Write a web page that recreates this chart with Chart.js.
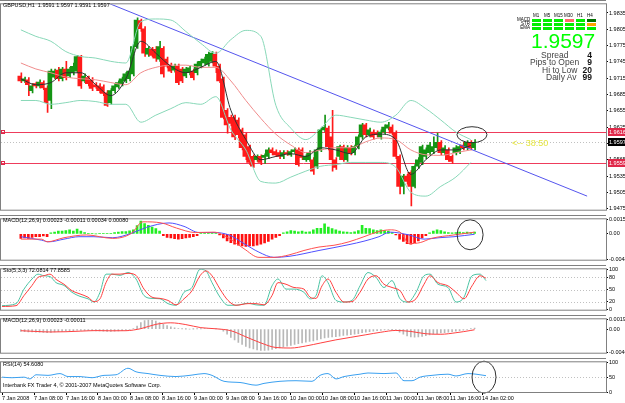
<!DOCTYPE html>
<html>
<head>
  <title>GBPUSD,H1</title>
  <meta charset="utf-8">
  <script src="https://cdn.jsdelivr.net/npm/chart.js"></script>
  <style>
    body { margin: 0; width: 625px; height: 403px; overflow: hidden; position: relative; background: #fff;
           font-family: "Liberation Sans", Arial, sans-serif; }
    canvas { position: absolute; left: 0; }
    .t { position: absolute; white-space: nowrap; font-size: 5.5px; line-height: 6px; color: #000; }
    .cell { position: absolute; width: 9px; height: 3px; background: #00ee00; }
    .info { position: absolute; white-space: nowrap; font-size: 8.5px; line-height: 8px; color: #444; }
    .num { position: absolute; white-space: nowrap; font-size: 8.5px; line-height: 8px; color: #111; font-weight: bold; text-align: right; width: 20px; }
  </style>
</head>
<body>

<canvas id="mainChart" style="top:0px" width="625" height="214"></canvas>
<canvas id="macdChart" style="top:215px" width="625" height="49"></canvas>
<canvas id="stoChart" style="top:265px" width="625" height="49"></canvas>
<canvas id="macd2Chart" style="top:315px" width="625" height="42"></canvas>
<canvas id="rsiChart" style="top:358px" width="625" height="45"></canvas>

<div class="t" style="left:3px;top:2px">GBPUSD,H1&nbsp; 1.9591 1.9597 1.9591 1.9597</div>
<div class="t" style="left:3px;top:217px">MACD(12,26,9) 0.00023 -0.00011 0.00034 0.00080</div>
<div class="t" style="left:3px;top:267px">Sto(5,3,3) 72.0814 77.8585</div>
<div class="t" style="left:3px;top:317px">MACD(12,26,9) 0.00023 -0.00011</div>
<div class="t" style="left:3px;top:361px">RSI(14) 54.6080</div>
<div class="t" style="left:3px;top:382px">Interbank FX Trader 4, © 2001-2007 MetaQuotes Software Corp.</div>

<!-- info panel -->
<div class="t" style="left:533px;top:13px;font-size:4.5px">M1</div>
<div class="t" style="left:544px;top:13px;font-size:4.5px">M5</div>
<div class="t" style="left:554px;top:13px;font-size:4.5px">M15</div>
<div class="t" style="left:564px;top:13px;font-size:4.5px">M30</div>
<div class="t" style="left:577px;top:13px;font-size:4.5px">H1</div>
<div class="t" style="left:587px;top:13px;font-size:4.5px">H4</div>
<div class="t" style="left:517px;top:18px;font-size:4.5px;line-height:4px;text-align:right;width:13px">MACD<br>STR<br>EMA</div>
<div class="cell" style="left:532px;top:19px"></div><div class="cell" style="left:543px;top:19px"></div>
<div class="cell" style="left:554px;top:19px"></div><div class="cell" style="left:565px;top:19px;background:#ff6a6a"></div>
<div class="cell" style="left:576px;top:19px"></div><div class="cell" style="left:587px;top:19px;background:#007000"></div>
<div class="cell" style="left:532px;top:23px"></div><div class="cell" style="left:543px;top:23px"></div>
<div class="cell" style="left:554px;top:23px"></div><div class="cell" style="left:565px;top:23px"></div>
<div class="cell" style="left:576px;top:23px"></div><div class="cell" style="left:587px;top:23px;background:#ffa500"></div>
<div class="cell" style="left:532px;top:27px"></div><div class="cell" style="left:543px;top:27px"></div>
<div class="cell" style="left:554px;top:27px"></div><div class="cell" style="left:565px;top:27px"></div>
<div class="cell" style="left:576px;top:27px"></div><div class="cell" style="left:587px;top:27px"></div>
<div class="t" style="left:531px;top:30px;font-size:21px;line-height:21px;color:#00ff00">1.9597</div>
<div class="info" style="left:541px;top:51px">Spread</div>
<div class="info" style="left:530px;top:58px">Pips to Open</div>
<div class="info" style="left:542px;top:66px">Hi to Low</div>
<div class="info" style="left:546px;top:73px">Daily Av</div>
<div class="num" style="left:572px;top:51px">4</div>
<div class="num" style="left:572px;top:58px">9</div>
<div class="num" style="left:572px;top:66px">20</div>
<div class="num" style="left:572px;top:73px">99</div>
<div class="t" style="left:512px;top:139px;font-size:9px;line-height:9px;color:#e6e640">&lt;-- 38:50</div>

<script>
// ---------- data ----------
const xLabels = ['7 Jan 2008', '7 Jan 08:00', '7 Jan 16:00', '8 Jan 00:00', '8 Jan 08:00', '8 Jan 16:00',
  '9 Jan 00:00', '9 Jan 08:00', '9 Jan 16:00', '10 Jan 00:00', '10 Jan 08:00', '10 Jan 16:00',
  '11 Jan 00:00', '11 Jan 08:00', '11 Jan 16:00', '14 Jan 02:00'];
const xLabelBars = [0, 8, 16, 24, 32, 40, 48, 56, 64, 72, 80, 88, 96, 104, 112, 120];

const priceTicks = [1.9835, 1.9805, 1.9775, 1.9745, 1.9715, 1.9685, 1.9655, 1.9625, 1.9595, 1.9565, 1.9535, 1.9505, 1.9475];

// open, high, low, close  (H1 bars)
const ohlc = [
  [1.9719,1.9725,1.9707,1.9710],[1.9710,1.9717,1.9707,1.9714],[1.9712,1.9716,1.9683,1.9703],[1.9692,1.9705,1.9688,1.9701],
  [1.9705,1.9708,1.9697,1.9701],[1.9701,1.9712,1.9697,1.9708],[1.9707,1.9710,1.9694,1.9697],[1.9697,1.9701,1.9652,1.9670],
  [1.9674,1.9732,1.9659,1.9728],[1.9717,1.9732,1.9714,1.9728],[1.9730,1.9735,1.9710,1.9714],[1.9714,1.9735,1.9710,1.9732],
  [1.9732,1.9746,1.9712,1.9716],[1.9719,1.9735,1.9716,1.9732],[1.9725,1.9743,1.9721,1.9737],[1.9728,1.9757,1.9725,1.9755],
  [1.9755,1.9757,1.9696,1.9701],[1.9710,1.9723,1.9707,1.9719],[1.9716,1.9719,1.9701,1.9705],[1.9712,1.9716,1.9692,1.9696],
  [1.9703,1.9707,1.9696,1.9699],[1.9701,1.9705,1.9688,1.9692],[1.9699,1.9703,1.9683,1.9687],[1.9688,1.9692,1.9663,1.9665],
  [1.9670,1.9696,1.9667,1.9692],[1.9692,1.9705,1.9688,1.9701],[1.9699,1.9710,1.9696,1.9707],[1.9705,1.9717,1.9701,1.9714],
  [1.9710,1.9726,1.9707,1.9723],[1.9714,1.9732,1.9710,1.9728],[1.9723,1.9777,1.9719,1.9773],[1.9773,1.9826,1.9770,1.9822],
  [1.9821,1.9824,1.9801,1.9806],[1.9806,1.9810,1.9755,1.9761],[1.9759,1.9773,1.9755,1.9770],[1.9768,1.9772,1.9754,1.9757],
  [1.9768,1.9773,1.9746,1.9752],[1.9750,1.9783,1.9746,1.9773],[1.9770,1.9773,1.9717,1.9723],[1.9750,1.9754,1.9734,1.9737],
  [1.9739,1.9743,1.9725,1.9728],[1.9730,1.9741,1.9726,1.9737],[1.9737,1.9741,1.9703,1.9707],[1.9732,1.9735,1.9707,1.9710],
  [1.9719,1.9735,1.9716,1.9732],[1.9725,1.9737,1.9721,1.9734],[1.9728,1.9732,1.9712,1.9716],[1.9725,1.9745,1.9721,1.9741],
  [1.9737,1.9750,1.9734,1.9746],[1.9743,1.9754,1.9739,1.9750],[1.9741,1.9763,1.9737,1.9759],[1.9746,1.9764,1.9743,1.9761],
  [1.9759,1.9763,1.9725,1.9737],[1.9737,1.9741,1.9707,1.9710],[1.9714,1.9717,1.9640,1.9643],[1.9656,1.9659,1.9614,1.9629],
  [1.9643,1.9647,1.9627,1.9632],[1.9643,1.9647,1.9602,1.9607],[1.9638,1.9642,1.9605,1.9611],[1.9620,1.9623,1.9583,1.9587],
  [1.9611,1.9614,1.9565,1.9571],[1.9589,1.9592,1.9556,1.9560],[1.9571,1.9574,1.9551,1.9553],[1.9565,1.9574,1.9562,1.9571],
  [1.9571,1.9574,1.9556,1.9560],[1.9569,1.9576,1.9558,1.9573],[1.9571,1.9587,1.9567,1.9583],[1.9583,1.9587,1.9574,1.9578],
  [1.9580,1.9583,1.9571,1.9574],[1.9578,1.9582,1.9567,1.9571],[1.9571,1.9582,1.9567,1.9578],[1.9578,1.9582,1.9573,1.9576],
  [1.9574,1.9583,1.9571,1.9580],[1.9580,1.9587,1.9576,1.9583],[1.9583,1.9587,1.9553,1.9556],[1.9583,1.9587,1.9565,1.9569],
  [1.9565,1.9574,1.9562,1.9571],[1.9565,1.9582,1.9562,1.9578],[1.9565,1.9569,1.9538,1.9544],[1.9553,1.9587,1.9549,1.9583],
  [1.9583,1.9623,1.9580,1.9620],[1.9620,1.9647,1.9616,1.9625],[1.9623,1.9627,1.9583,1.9589],[1.9607,1.9656,1.9544,1.9565],
  [1.9565,1.9569,1.9547,1.9551],[1.9571,1.9592,1.9565,1.9589],[1.9589,1.9592,1.9562,1.9565],[1.9565,1.9591,1.9562,1.9587],
  [1.9587,1.9591,1.9574,1.9578],[1.9578,1.9592,1.9574,1.9589],[1.9589,1.9611,1.9585,1.9607],[1.9607,1.9632,1.9603,1.9629],
  [1.9629,1.9632,1.9607,1.9611],[1.9611,1.9623,1.9607,1.9620],[1.9616,1.9620,1.9603,1.9607],[1.9614,1.9618,1.9607,1.9611],
  [1.9607,1.9620,1.9603,1.9616],[1.9616,1.9629,1.9612,1.9625],[1.9623,1.9634,1.9620,1.9629],[1.9625,1.9629,1.9611,1.9614],
  [1.9614,1.9618,1.9567,1.9571],[1.9571,1.9574,1.9502,1.9516],[1.9516,1.9538,1.9502,1.9535],[1.9535,1.9538,1.9520,1.9525],
  [1.9542,1.9545,1.9480,1.9516],[1.9516,1.9556,1.9513,1.9553],[1.9553,1.9569,1.9549,1.9565],[1.9560,1.9592,1.9556,1.9589],
  [1.9571,1.9587,1.9567,1.9583],[1.9578,1.9597,1.9574,1.9592],[1.9580,1.9607,1.9576,1.9589],[1.9587,1.9614,1.9583,1.9597],
  [1.9597,1.9600,1.9574,1.9578],[1.9578,1.9591,1.9574,1.9587],[1.9583,1.9587,1.9562,1.9565],[1.9571,1.9574,1.9558,1.9562],
  [1.9578,1.9591,1.9574,1.9587],[1.9580,1.9592,1.9576,1.9589],[1.9592,1.9597,1.9583,1.9587],[1.9587,1.9600,1.9583,1.9597],
  [1.9597,1.9600,1.9583,1.9587],[1.9587,1.9602,1.9583,1.9597]
];

// moving averages / bands, read every 4 bars
const maBars = [0, 4, 8, 12, 16, 20, 24, 28, 32, 36, 40, 44, 48, 52, 56, 60, 64, 68, 72, 76, 80, 84, 88, 92, 96, 100, 104, 108, 112, 116, 120];
const bbUpper = [1.9804, 1.9792, 1.9783, 1.9764, 1.9755, 1.9752, 1.9746, 1.9743, 1.9819, 1.9824, 1.9822, 1.9801, 1.9779, 1.9761, 1.9786, 1.9803,
  1.9792, 1.9665, 1.9623, 1.9602, 1.9623, 1.9647, 1.9643, 1.9638, 1.9634, 1.9647, 1.9674, 1.9659, 1.9638, 1.9616, 1.9602];
const bbLower = [1.9674, 1.9674, 1.9667, 1.9670, 1.9674, 1.9672, 1.9667, 1.9667, 1.9634, 1.9647, 1.9659, 1.9670, 1.9667, 1.9681, 1.9620, 1.9583,
  1.9525, 1.9522, 1.9533, 1.9544, 1.9553, 1.9556, 1.9560, 1.9560, 1.9560, 1.9551, 1.9505, 1.9498, 1.9516, 1.9533, 1.9560];
const maSlow = [1.9743, 1.9732, 1.9725, 1.9717, 1.9714, 1.9712, 1.9707, 1.9703, 1.9725, 1.9735, 1.9739, 1.9739, 1.9735, 1.9735, 1.9710, 1.9674,
  1.9641, 1.9612, 1.9592, 1.9578, 1.9583, 1.9587, 1.9587, 1.9598, 1.9605, 1.9602, 1.9583, 1.9574, 1.9573, 1.9578, 1.9583];
const maFast = [1.9714, 1.9703, 1.9707, 1.9725, 1.9725, 1.9703, 1.9683, 1.9714, 1.9783, 1.9761, 1.9737, 1.9725, 1.9735, 1.9746, 1.9656, 1.9602,
  1.9565, 1.9571, 1.9576, 1.9571, 1.9587, 1.9583, 1.9576, 1.9607, 1.9612, 1.9602, 1.9538, 1.9565, 1.9583, 1.9583, 1.9591];

const trendBars = [23, 151];
const trendPrices = [1.9854, 1.9498];
const levelPrices = [1.9616, 1.9559];
const bidPrice = 1.9597;

// MACD pane with coloured histogram
const macdTicks = [0.00157, 0, -0.00277];
const macdTickLabels = ['0.00157', '0.00', '-0.00483'];
const macdHist = [
  -0.00048, -0.00044, -0.00048, -0.00037, -0.00030, -0.00030, -0.00022, -0.00030,
  0.00011, 0.00019, 0.00030, 0.00030, 0.00037, 0.00044, 0.00030, 0.00052,
  0.00030, 0.00015, 0.00007, 0.00004, 0.00000, 0.00004, 0.00007, 0.00004,
  0.00007, 0.00015, 0.00019, 0.00026, 0.00026, 0.00033,
  0.00044, 0.00089, 0.00137, 0.00111, 0.00093, 0.00074, 0.00056, 0.00030,
  -0.00019, -0.00037, -0.00044, -0.00052, -0.00056, -0.00052, -0.00044, -0.00037, -0.00030, -0.00019,
  0.00007, 0.00015, 0.00015, 0.00011, 0.00007, -0.00011,
  -0.00044, -0.00074, -0.00093, -0.00111, -0.00122, -0.00130, -0.00133, -0.00130, -0.00130,
  -0.00122, -0.00111, -0.00096, -0.00081, -0.00056, -0.00037, -0.00019,
  0.00011, 0.00022, 0.00037, 0.00030, 0.00022, 0.00030, 0.00019, 0.00022, 0.00044, 0.00059,
  0.00059, 0.00107, 0.00074, 0.00056, 0.00044, 0.00030, 0.00022, 0.00019, 0.00015, 0.00022,
  0.00037, 0.00093, 0.00059, 0.00056, 0.00044, 0.00037, 0.00044, 0.00037, 0.00030, 0.00015,
  -0.00011, -0.00056, -0.00081, -0.00104, -0.00111, -0.00093, -0.00074, -0.00044, -0.00019,
  0.00011, 0.00030, 0.00044, 0.00037, 0.00022, 0.00015, 0.00011, 0.00015, 0.00019, 0.00015, 0.00019, 0.00015, 0.00019
];
const macdBlueBars = [0, 5.5, 7.5, 11.5, 15.5, 19.5, 24.5, 29.5, 33.5, 39.5, 43.5, 47.5, 51.5, 55.5, 59.5, 63.5, 67.5, 71.5,
  79.5, 87.5, 91.5, 95.5, 98.5, 103.5, 107.5, 111.5, 115.5, 121];
const macdBlue = [-0.00030, -0.00067, -0.00085, -0.00056, -0.00030, -0.00030, -0.00041, 0.00007, 0.00070, 0.00118, 0.00081, 0.00015,
  0.00015, -0.00011, -0.00104, -0.00196, -0.00252, -0.00241, -0.00178, -0.00115, -0.00078, -0.00030, 0.00019, -0.00011, -0.00056,
  -0.00041, -0.00030, -0.00004];
const macdRedBars = [0, 5.5, 7, 11.5, 17.5, 24.5, 29.5, 32.5, 37.5, 41.5, 46.5, 51.5, 55.5, 59.5, 63.5, 67.5, 71.5, 75.5, 79.5,
  83.5, 87.5, 91.5, 95.5, 98.5, 101.5, 103.5, 106.5, 109.5, 115.5, 121];
const macdRed = [-0.00056, -0.00056, -0.00085, -0.00041, -0.00011, -0.00048, 0.00007, 0.00130, 0.00118, 0.00063, 0.00015, 0.00019,
  -0.00048, -0.00159, -0.00252, -0.00252, -0.00226, -0.00178, -0.00141, -0.00122, -0.00085, -0.00030, 0.00026, 0.00044, 0.00007,
  -0.00104, -0.00093, -0.00048, -0.00011, 0.00019];

// Stochastic
const stoTicks = [100, 80, 50, 20, 0];
const stoLevels = [80, 50, 20];
const stochBars = [0, 3.5, 5.5, 7.5, 9, 10.5, 12, 13.5, 15.5, 17.5, 19.5, 21.5, 23, 24.5, 26, 27.5, 29.5, 31.5, 33.5, 35.5,
  37.5, 39.5, 41.5, 43.5, 45.5, 47.5, 49.5, 51, 52.5, 54.5, 56.5, 58.5, 61.5, 63.5, 65.5, 67.5, 69, 71, 73, 75.5,
  77, 78.5, 80, 81.5, 83.5, 85.5, 87.5, 89.5, 91.5, 93.5, 95.5, 97.5, 99.5, 101.5, 103.5, 105.5, 107, 109, 111.5, 113.5,
  115.5, 117.5, 119.5, 121];
const stochMain = [10, 15, 51, 76, 88, 84, 82, 67, 60, 43, 33, 27, 19, 43, 88, 88, 85, 92, 76, 35,
  28, 27, 15, 11, 43, 55, 100, 96, 67, 31, 11, 11, 16, 12, 11, 59, 76, 51, 51, 43,
  27, 35, 84, 67, 23, 19, 23, 59, 92, 80, 55, 72, 27, 19, 43, 84, 88, 63, 55, 19,
  31, 84, 88, 72];
const stochSignal = [8, 10, 35, 60, 80, 84, 88, 75, 63, 47, 39, 31, 20, 27, 67, 88, 88, 90, 85, 51,
  31, 28, 23, 12, 27, 47, 84, 96, 84, 51, 23, 11, 15, 15, 12, 35, 67, 63, 55, 51,
  31, 28, 59, 76, 43, 19, 20, 43, 76, 84, 63, 55, 47, 19, 27, 63, 84, 67, 59, 43,
  27, 59, 84, 78];

// plain MACD
const macd2Ticks = [0.00194, 0, -0.00462];
const macd2TickLabels = ['0.00194', '0.00', '-0.00462'];
const macd2Main = [
  -0.00045, -0.00048, -0.00052, -0.00055, -0.00058, -0.00060, -0.00065, -0.00070,
  -0.00062, -0.00055, -0.00048, -0.00042, -0.00038, -0.00032, -0.00028, -0.00020,
  -0.00022, -0.00025, -0.00028, -0.00030, -0.00033, -0.00036, -0.00040, -0.00045,
  -0.00042, -0.00038, -0.00033, -0.00028, -0.00022, -0.00015,
  0.00010, 0.00060, 0.00130, 0.00170, 0.00180, 0.00175, 0.00160, 0.00130,
  0.00100, 0.00070, 0.00045, 0.00025, 0.00010, 0.00005, 0.00002, 0.00000, 0.00002, 0.00003,
  0.00005, 0.00008, 0.00010, 0.00008, 0.00005, 0.00000,
  -0.00040, -0.00100, -0.00160, -0.00210, -0.00260, -0.00300, -0.00340, -0.00370, -0.00390,
  -0.00405, -0.00415, -0.00418, -0.00412, -0.00400, -0.00385, -0.00370, -0.00352,
  -0.00335, -0.00318, -0.00300, -0.00285, -0.00270, -0.00255, -0.00242, -0.00230, -0.00212, -0.00192,
  -0.00170, -0.00160, -0.00150, -0.00145, -0.00135, -0.00125, -0.00118, -0.00110, -0.00100, -0.00088,
  -0.00070, -0.00060, -0.00050, -0.00040, -0.00030, -0.00022, -0.00015, -0.00008, -0.00005,
  -0.00020, -0.00060, -0.00100, -0.00130, -0.00150, -0.00155, -0.00150, -0.00140, -0.00128,
  -0.00115, -0.00100, -0.00088, -0.00075, -0.00068, -0.00060, -0.00050, -0.00040, -0.00030, -0.00020, -0.00010, 0.00005, 0.00023
];
const macd2SignalBars = [0, 4, 8, 12, 16, 20, 24, 28, 32, 36, 40, 44, 48, 52, 56, 60, 64, 68, 72, 76, 80, 84, 88, 92, 96, 100,
  104, 108, 112, 116, 120, 121];
const macd2Signal = [-0.00030, -0.00045, -0.00055, -0.00050, -0.00038, -0.00028, -0.00032, -0.00030, 0.00010, 0.00095, 0.00125,
  0.00090, 0.00030, 0.00008, -0.00030, -0.00150, -0.00270, -0.00360, -0.00370, -0.00330, -0.00270, -0.00210, -0.00160,
  -0.00110, -0.00060, -0.00025, -0.00045, -0.00090, -0.00100, -0.00070, -0.00025, -0.00011];

// RSI
const rsiTicks = [100, 50, 0];
const rsiBars = [0, 2.5, 5.5, 7, 8.5, 11.5, 14.5, 16.5, 19.5, 22.5, 25.5, 28.5, 31.5, 33.5, 36.5, 39.5, 43.5, 47.5, 50.5, 52.5,
  55.5, 59.5, 63.5, 65.5, 69.5, 73.5, 77.5, 79.5, 81.5, 83.5, 85.5, 89.5, 91.5, 95.5, 98.5, 100.5, 102.5, 104.5, 107.5, 111.5,
  113.5, 116.5, 118.5, 121];
const rsiValues = [50, 48, 50, 44, 58, 56, 62, 52, 52, 48, 56, 58, 80, 68, 62, 56, 52, 57, 62, 56,
  36, 32, 23, 29, 36, 38, 36, 56, 62, 44, 52, 60, 64, 62, 64, 38, 38, 50, 56, 60,
  54, 62, 60, 55];

// ---------- helpers ----------
const BULL = '#149414', BEAR = '#ff1a1a';
const FONT = '"Liberation Sans", Arial';
const pts = (bars, vals) => bars.map((b, i) => ({ x: b, y: vals[i] }));
const candleColors = ohlc.map(c => c[3] >= c[0] ? BULL : BEAR);
const X_MIN = -0.25, X_MAX = 151;

// extra drawing per pane (levels, axis tags, ellipses), kept out of Chart.js option resolving
const paneExtras = {
  mainChart: {
    levels: [
      { value: levelPrices[0], stroke: '#ee3c5c' },
      { value: levelPrices[1], stroke: '#ee3c5c' },
      { value: bidPrice, stroke: '#c0c0c0', dash: [1, 2] }
    ],
    tags: [
      { value: levelPrices[0], fill: '#e0284a', marker: true },
      { value: levelPrices[1], fill: '#e0284a', marker: true },
      { value: bidPrice, fill: '#000000' }
    ],
    ellipses: [{ bar: 120.3, value: 1.9611, rx: 15, ry: 8 }]
  },
  macdChart: { ellipses: [{ bar: 119.8, value: -0.00009, rx: 13, ry: 15 }] },
  stoChart: { levels: stoLevels.map(v => ({ value: v, stroke: '#c0c0c0', dash: [1, 2] })) },
  macd2Chart: {},
  rsiChart: {
    levels: [{ value: 50, stroke: '#c0c0c0', dash: [1, 2] }],
    ellipses: [{ bar: 120.5, value: 50, rx: 12, ry: 16 }]
  }
};

const framePlugin = {
  id: 'frame',
  beforeDatasetsDraw(chart) {
    const ex = paneExtras[chart.canvas.id] || {};
    const a = chart.chartArea, ctx = chart.ctx;
    (ex.levels || []).forEach(l => {
      const y = Math.round(chart.scales.y.getPixelForValue(l.value)) + 0.5;
      ctx.save();
      ctx.strokeStyle = l.stroke; ctx.lineWidth = 1;
      ctx.setLineDash(l.dash || []);
      ctx.beginPath(); ctx.moveTo(a.left, y); ctx.lineTo(a.right, y); ctx.stroke();
      ctx.restore();
    });
  },
  afterDraw(chart) {
    const ex = paneExtras[chart.canvas.id] || {};
    const a = chart.chartArea, ctx = chart.ctx;
    ctx.save();
    (ex.ellipses || []).forEach(e => {
      const cx = chart.scales.x.getPixelForValue(e.bar), cy = chart.scales.y.getPixelForValue(e.value);
      ctx.strokeStyle = '#303030'; ctx.lineWidth = 1;
      ctx.beginPath(); ctx.ellipse(cx, cy, e.rx, e.ry, 0, 0, Math.PI * 2); ctx.stroke();
    });
    // pane frame and separator
    ctx.strokeStyle = '#808080'; ctx.lineWidth = 1;
    ctx.strokeRect(a.left - 0.5, a.top - 0.5, a.right - a.left + 1, a.bottom - a.top + 1);
    ctx.beginPath(); ctx.moveTo(0, 0.5); ctx.lineTo(a.right, 0.5); ctx.stroke();
    // price tags on the axis
    (ex.tags || []).forEach(t => {
      const y = Math.round(chart.scales.y.getPixelForValue(t.value));
      ctx.fillStyle = t.fill;
      ctx.fillRect(a.right + 2, y - 4, chart.width - a.right - 2, 8);
      ctx.fillStyle = '#ffffff';
      ctx.font = '5.5px ' + FONT;
      ctx.textBaseline = 'middle';
      ctx.fillText(t.value.toFixed(4), a.right + 3, y);
      if (t.marker) {
        ctx.strokeStyle = t.fill;
        ctx.strokeRect(a.left + 0.5, y - 1.5, 3, 3);
      }
    });
    ctx.restore();
  }
};
Chart.register(framePlugin);

function yAxis(min, max, ticks, labels) {
  return {
    position: 'right', min: min, max: max,
    afterFit: s => { s.width = 19; },
    afterBuildTicks: s => { s.ticks = ticks.map(v => ({ value: v })); },
    grid: { drawOnChartArea: false, tickLength: 2, color: '#000' },
    border: { display: true, color: '#808080' },
    ticks: {
      padding: 1, color: '#000', font: { size: 5.5, family: FONT },
      callback: (v, i) => labels ? labels[i] : String(v)
    }
  };
}

function xAxis(show) {
  return {
    type: 'linear', min: X_MIN, max: X_MAX, display: show,
    afterFit: s => { s.height = show ? 11 : 0; },
    afterBuildTicks: s => { s.ticks = xLabelBars.map(v => ({ value: v })); },
    grid: { drawOnChartArea: false, tickLength: 3, color: '#000' },
    border: { display: true, color: '#808080' },
    ticks: {
      align: 'start', padding: 0, maxRotation: 0, autoSkip: false, color: '#000',
      font: { size: 5.5, family: FONT },
      callback: (v, i) => xLabels[i]
    }
  };
}

function baseOptions(scales, padBottom) {
  return {
    responsive: false, animation: false, events: [],
    layout: { padding: { left: 1, top: 1, right: 0, bottom: padBottom } },
    plugins: { legend: { display: false }, tooltip: { enabled: false } },
    scales: scales
  };
}

function line(data, color, order, width) {
  return { type: 'line', data: data, borderColor: color, borderWidth: width || 1, pointRadius: 0,
           cubicInterpolationMode: 'monotone', order: order, fill: false };
}

// ---------- main price pane ----------
new Chart(document.getElementById('mainChart'), {
  type: 'bar',
  data: {
    datasets: [
      line(pts(maBars, maFast), '#303030', 1),
      line(pts(maBars, maSlow), '#f08c8c', 2),
      line(pts(maBars, bbUpper), '#88d8b8', 3),
      line(pts(maBars, bbLower), '#88d8b8', 3),
      line(pts(trendBars, trendPrices), '#5555ee', 4),
      { type: 'bar', order: 5, data: ohlc.map((c, i) => ({ x: i, y: [c[0], c[3]] })),
        backgroundColor: candleColors, barThickness: 3, minBarLength: 1 },
      { type: 'bar', order: 6, data: ohlc.map((c, i) => ({ x: i, y: [c[2], c[1]] })),
        backgroundColor: candleColors, barThickness: 1 }
    ]
  },
  options: baseOptions({ x: xAxis(false), y: yAxis(1.9473, 1.9851, priceTicks, priceTicks.map(v => v.toFixed(4))) }, 1)
});

// ---------- MACD with coloured histogram ----------
new Chart(document.getElementById('macdChart'), {
  type: 'bar',
  data: {
    datasets: [
      line(pts(macdRedBars, macdRed), '#ff5050', 1),
      line(pts(macdBlueBars, macdBlue), '#5050ff', 2),
      { type: 'bar', order: 3, data: macdHist.map((v, i) => ({ x: i, y: v })),
        backgroundColor: macdHist.map(v => v >= 0 ? '#22ee22' : '#ff1010'), barThickness: 2 }
    ]
  },
  options: baseOptions({ x: xAxis(false), y: yAxis(macdTicks[2], macdTicks[0], macdTicks, macdTickLabels) }, 1)
});

// ---------- Stochastic ----------
new Chart(document.getElementById('stoChart'), {
  type: 'line',
  data: {
    datasets: [
      line(pts(stochBars, stochMain), '#4cc4a4', 2),
      line(pts(stochBars, stochSignal), '#ff4040', 1)
    ]
  },
  options: baseOptions({ x: xAxis(false), y: yAxis(0, 100, stoTicks) }, 1)
});

// ---------- plain MACD ----------
new Chart(document.getElementById('macd2Chart'), {
  type: 'bar',
  data: {
    datasets: [
      line(pts(macd2SignalBars, macd2Signal), '#ff4040', 1),
      { type: 'bar', order: 2, data: macd2Main.map((v, i) => ({ x: i, y: v })),
        backgroundColor: '#b8b8b8', barThickness: 1 }
    ]
  },
  options: baseOptions({ x: xAxis(false), y: yAxis(macd2Ticks[2], macd2Ticks[0], macd2Ticks, macd2TickLabels) }, 1)
});

// ---------- RSI + time axis ----------
new Chart(document.getElementById('rsiChart'), {
  type: 'line',
  data: {
    datasets: [line(pts(rsiBars, rsiValues), '#3aa0f0', 1)]
  },
  options: baseOptions({ x: xAxis(true), y: yAxis(0, 100, rsiTicks) }, 0)
});
</script>
</body>
</html>
